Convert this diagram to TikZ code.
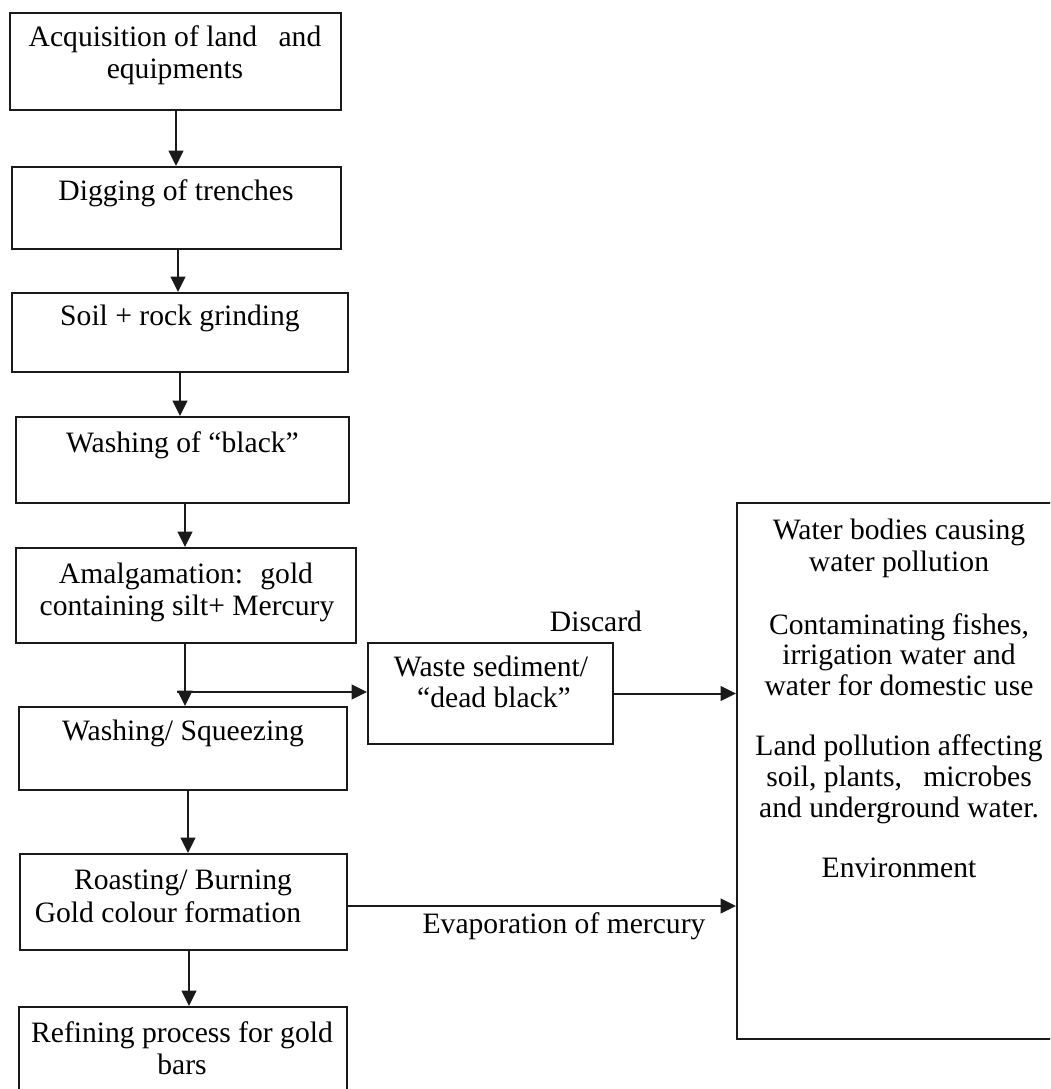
\documentclass[tikz,border=0pt]{standalone}
\usepackage{fontspec}
\setmainfont{Liberation Serif}
\usetikzlibrary{arrows.meta}
\definecolor{linec}{HTML}{1A1A1A}
\newcommand\mybox[5]{\node[boxn, minimum width={(#4-#2)*0.75pt}, minimum height={(#5-#3)*0.75pt}] (#1) at ({(#2+#4)/2},{(#3+#5)/2}) {};}
\begin{document}
\begin{tikzpicture}[x=0.75pt, y=-0.75pt,
  boxn/.style={draw=linec, line width=1.5pt, inner sep=0pt},
  txt/.style={anchor=base, inner sep=0pt, font=\fontsize{22.2pt}{23.25pt}\selectfont},
  arr/.style={draw=linec, line width=1.5pt, -{Triangle[length=11.5pt, width=11pt]}}]
\useasboundingbox (0,0) rectangle (1050,1089);
\clip (0,0) rectangle (1050,1089);
\fill[white] (0,0) rectangle (1050,1089);
% boxes
\mybox{b1}{10}{13}{341}{110}
\mybox{b2}{12}{167}{341}{249}
\mybox{b3}{12}{293}{348}{372}
\mybox{b4}{16}{417}{349}{503}
\mybox{b5}{16}{548}{356}{643}
\mybox{b6}{19}{707}{347}{790}
\mybox{b7}{20}{854}{347}{950}
\mybox{b8}{19}{1007}{347}{1110}
\mybox{bw}{368}{643}{613}{744}
\mybox{br}{737}{503}{1070}{1039}
% texts
\node[txt] (t1a) at (175,46) {Acquisition of land\hspace{16pt}and};
\node[txt] (t1b) at (175,78) {equipments};
\node[txt] (t2) at (176,200) {Digging of trenches};
\node[txt] (t3) at (180,325) {Soil + rock grinding};
\node[txt] (t4) at (182.5,452) {Washing of “black”};
\node[txt] (t5a) at (186,583) {Amalgamation: \ gold};
\node[txt] (t5b) at (187,615) {containing silt+ Mercury};
\node[txt] (t6) at (183,740) {Washing/ Squeezing};
\node[txt] (t7a) at (183,889) {Roasting/ Burning};
\node[txt] (t7b) at (168,922) {Gold colour formation};
\node[txt] (t8a) at (182,1042) {Refining process for gold};
\node[txt] (t8b) at (182,1074) {bars};
\node[txt] (twa) at (491,676) {Waste sediment/};
\node[txt] (twb) at (494,707) {“dead black”};
\node[txt] (tdis) at (596,631) {Discard};
\node[txt] (tev) at (564,933) {Evaporation of mercury};
\node[txt] (tr1) at (899,539) {Water bodies causing};
\node[txt] (tr2) at (899,571) {water pollution};
\node[txt] (tr3) at (899,634) {Contaminating fishes,};
\node[txt] (tr4) at (899,664) {irrigation water and};
\node[txt] (tr5) at (899,695) {water for domestic use};
\node[txt] (tr6) at (899,755) {Land pollution affecting};
\node[txt] (tr7) at (899,786) {soil, plants,\hspace{16pt}microbes};
\node[txt] (tr8) at (899,817) {and underground water.};
\node[txt] (tr9) at (899,877) {Environment};
% connector guide coordinates
\coordinate (x1) at (176,0);
\coordinate (x2) at (178,0);
\coordinate (x3) at (180,0);
\coordinate (x4) at (185,0);
\coordinate (x5) at (185,0);
\coordinate (x6) at (188,0);
\coordinate (x7) at (189,0);
\coordinate (split) at (177,692);
\coordinate (ev) at (0,906);
% connectors
\draw[arr] (b1.south -| x1) -- (b2.north -| x1);
\draw[arr] (b2.south -| x2) -- (b3.north -| x2);
\draw[arr] (b3.south -| x3) -- (b4.north -| x3);
\draw[arr] (b4.south -| x4) -- (b5.north -| x4);
\draw[arr] (b5.south -| x5) -- (b6.north -| x5);
\draw[arr] (b6.south -| x6) -- (b7.north -| x6);
\draw[arr] (b7.south -| x7) -- (b8.north -| x7);
\draw[arr] (split) -- (split -| bw.west);
\draw[arr] (bw.east) -- (bw.east -| br.west);
\draw[arr] (ev -| b7.east) -- (ev -| br.west);
\end{tikzpicture}
\end{document}
